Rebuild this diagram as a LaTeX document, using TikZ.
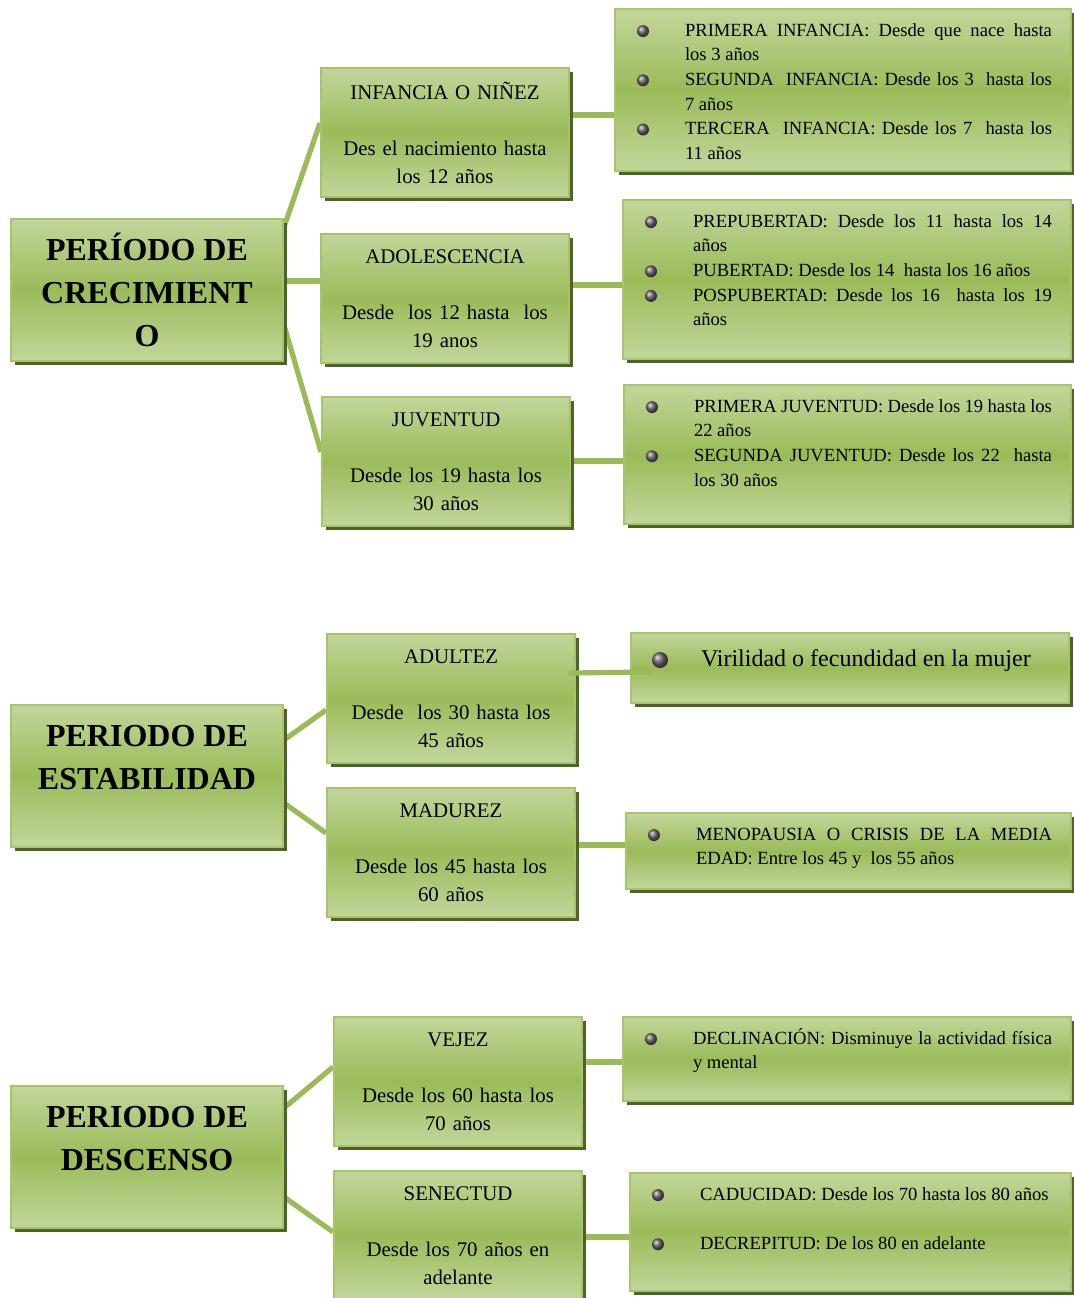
\documentclass[tikz,border=0pt]{standalone}
\usepackage{fontspec}
\setmainfont{Liberation Serif}
\usetikzlibrary{calc,shadows,backgrounds}

\definecolor{verdeclaro}{HTML}{C3D69B}
\definecolor{verdemedio}{HTML}{9BBB59}
\definecolor{verdeborde}{HTML}{A6C46A}
\definecolor{verdesombra}{HTML}{4F6228}
\definecolor{bolagris}{HTML}{6E6470}

\newcommand{\bola}[1][3pt]{\tikz[baseline=-0.6ex]\shade[ball color=bolagris] (0,0) circle (#1);}
\newcommand{\punto}{\par\noindent\hangindent=25.5pt\hangafter=1\makebox[25.5pt][l]{\hspace{1.5pt}\bola}\strut}
\newcommand{\lista}[3]{\parbox[c][#2][t]{\dimexpr#1-19pt\relax}{\fontsize{9.3}{12.3}\selectfont\vspace*{5pt}#3}}
\newcommand{\titulo}[1]{\parbox[c][71pt][t]{132pt}{\centering\vspace*{5.5pt}\strut#1}}

\tikzset{
  caja/.style={draw=verdeborde, line width=1pt, top color=verdeclaro, bottom color=verdeclaro,
    middle color=verdemedio, general shadow={fill=verdesombra, shadow xshift=2pt, shadow yshift=-2pt},
    anchor=north west},
  principal/.style={caja, minimum width=136pt, minimum height=71pt, inner sep=0pt,
    font=\bfseries\fontsize{16}{21.5}\selectfont},
  medio/.style={caja, minimum width=124pt, minimum height=64.5pt, text width=118pt, align=center,
    inner sep=0pt, font=\fontsize{10.4}{14}\selectfont},
  lateral/.style={caja, inner xsep=9.5pt, inner ysep=0pt},
  enlace/.style={draw=verdemedio, line width=2.6pt}
}

\begin{document}
\begin{tikzpicture}[x=0.5pt,y=-0.5pt]
\useasboundingbox (0,0) rectangle (1073,1298);

% periodo de crecimiento
\node[principal] (cre) at (10,218) {\titulo{PERÍODO DE\\CRECIMIENT\\O}};
\node[medio] (inf) at (320,67) {INFANCIA O NIÑEZ\\[14pt]Des el nacimiento hasta\\los 12 años};
\node[medio] (ado) at (320,233) {ADOLESCENCIA\\[14pt]Desde\ \ los 12 hasta\ \ los\\19 anos};
\node[medio] (juv) at (321,396) {JUVENTUD\\[14pt]Desde los 19 hasta los\\30 años};
\node[lateral] (r1) at (614,8) {\lista{228pt}{81pt}{%
  \punto PRIMERA INFANCIA: Desde que nace hasta\linebreak los 3 años
  \punto SEGUNDA\ \ INFANCIA: Desde los 3\ \ hasta los\linebreak 7 años
  \punto TERCERA\ \ INFANCIA: Desde los 7\ \ hasta los\linebreak 11 años}};
\node[lateral] (r2) at (622,199) {\lista{224pt}{79.5pt}{%
  \punto PREPUBERTAD: Desde los 11 hasta los 14\linebreak años
  \punto PUBERTAD: Desde los 14\ \ hasta los 16 años
  \punto POSPUBERTAD: Desde los 16\ \ hasta los 19\linebreak años}};
\node[lateral] (r3) at (623,384) {\lista{223.5pt}{69.5pt}{%
  \punto PRIMERA JUVENTUD: Desde los 19 hasta los\linebreak 22 años
  \punto SEGUNDA JUVENTUD: Desde los 22\ \ hasta\linebreak los 30 años}};

% periodo de estabilidad
\node[principal] (est) at (10,704) {\titulo{PERIODO DE\\ESTABILIDAD}};
\node[medio] (adu) at (326,633) {ADULTEZ\\[14pt]Desde\ \ los 30 hasta los\\45 años};
\node[medio] (mad) at (326,787) {MADUREZ\\[14pt]Desde los 45 hasta los\\60 años};
\node[lateral] (viril) at (630,632) {\parbox[c][35pt][t]{200pt}{\fontsize{12}{14}\selectfont
  \vspace*{7pt}\noindent\makebox[25.5pt][l]{\hspace{1pt}\bola[4pt]}\strut Virilidad o fecundidad en la mujer}};
\node[lateral] (meno) at (625,812) {\lista{222.5pt}{38pt}{%
  \punto MENOPAUSIA O CRISIS DE LA MEDIA\linebreak EDAD: Entre los 45 y\ \ los 55 años}};

% periodo de descenso
\node[principal] (des) at (10,1085) {\titulo{PERIODO DE\\DESCENSO}};
\node[medio] (vej) at (333,1016) {VEJEZ\\[14pt]Desde los 60 hasta los\\70 años};
\node[medio] (sen) at (333,1170) {SENECTUD\\[14pt]Desde los 70 años en\\adelante};
\node[lateral] (decl) at (622,1016) {\lista{224pt}{42pt}{%
  \punto DECLINACIÓN: Disminuye la actividad física\linebreak y mental}};
\node[lateral] (cad) at (629,1172) {\lista{220.5pt}{59pt}{%
  \punto CADUCIDAD: Desde los 70 hasta los 80 años\par\vspace{12.3pt}
  \punto DECREPITUD: De los 80 en adelante}};

% enlaces
\begin{scope}[on background layer]
\draw[enlace] ($(cre.north east)+(0,9)$) -- ($(inf.north west)+(0,56)$);
\coordinate (c1) at ($(ado.north west)+(0,48)$);
\draw[enlace] (cre.east |- c1) -- (c1);
\draw[enlace] ($(cre.north east)+(0,107)$) -- ($(juv.north west)+(0,56)$);
\draw[enlace] ($(inf.north east)+(0,48)$) coordinate (c2) -- (c2 -| r1.west);
\draw[enlace] ($(ado.north east)+(0,52)$) coordinate (c3) -- (c3 -| r2.west);
\draw[enlace] ($(juv.north east)+(0,65)$) coordinate (c4) -- (c4 -| r3.west);

\draw[enlace] ($(est.north east)+(0,36)$) -- ($(adu.north west)+(0,77)$);
\draw[enlace] ($(est.north east)+(0,99)$) -- ($(mad.north west)+(0,46)$);
\draw[enlace] ($(mad.north east)+(0,58)$) coordinate (c5) -- (c5 -| meno.west);

\draw[enlace] ($(des.north east)+(0,23)$) -- ($(vej.north west)+(0,51)$);
\draw[enlace] ($(des.north east)+(0,112)$) -- ($(sen.north west)+(0,62)$);
\draw[enlace] ($(vej.north east)+(0,46)$) coordinate (c6) -- (c6 -| decl.west);
\draw[enlace] ($(sen.north east)+(0,67)$) coordinate (c7) -- (c7 -| cad.west);
\end{scope}
\draw[enlace] ($(adu.north east)+(-7,40)$) -- ($(viril.north west)+(22,40)$);

\end{tikzpicture}
\end{document}
